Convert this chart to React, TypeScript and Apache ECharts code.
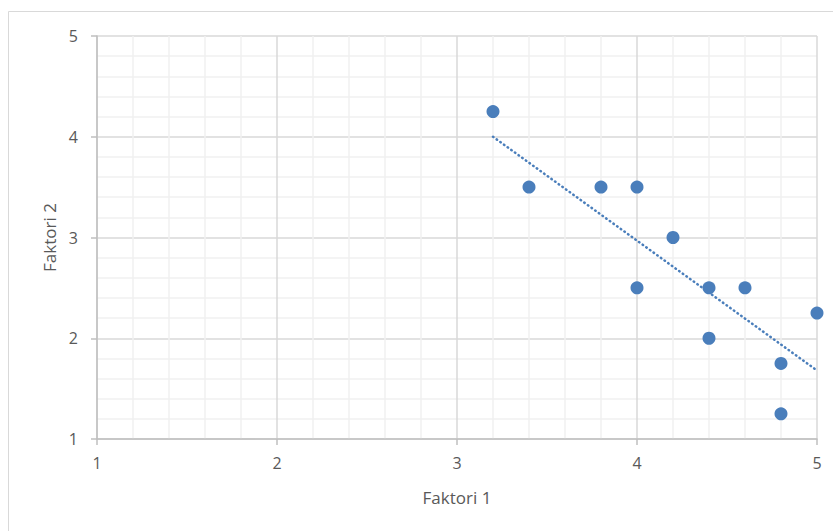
import React, { useEffect, useRef } from "react";
import * as echarts from "echarts";

const factor1: number[] = [3.2, 3.4, 3.8, 4.0, 4.2, 4.0, 4.4, 4.6, 5.0, 4.4, 4.8, 4.8];
const factor2: number[] = [4.25, 3.5, 3.5, 3.5, 3.0, 2.5, 2.5, 2.5, 2.25, 2.0, 1.75, 1.25];
const trendX: number[] = [3.2, 5.0];
const trendY: number[] = [4.0, 1.68];
const xTitle = "Faktori 1";
const yTitle = "Faktori 2";

export default function App() {
  const ref = useRef<HTMLDivElement>(null);
  useEffect(() => {
    if (!ref.current) return;
    const chart = echarts.init(ref.current, undefined, { renderer: "svg" });
    const font = "'Open Sans', 'Noto Sans', sans-serif";
    const axisCommon = {
      type: "value" as const,
      min: 1,
      max: 5,
      interval: 1,
      axisLine: { show: true, onZero: false, lineStyle: { color: "#bfbfbf", width: 1.5 } },
      axisTick: { show: true, length: 6, lineStyle: { color: "#bfbfbf", width: 1.5 } },
      splitLine: { show: true, lineStyle: { color: "#d9d9d9", width: 1.5 } },
      minorTick: { show: false, splitNumber: 5 },
      minorSplitLine: { show: true, lineStyle: { color: "#f0f0f0", width: 1.5 } },
      nameTextStyle: { color: "#595959", fontSize: 17, fontFamily: font },
    };
    chart.setOption({
      animation: false,
      backgroundColor: "#ffffff",
      graphic: [
        {
          type: "rect",
          shape: { x: 8.5, y: 11.5, width: 900, height: 600 },
          style: { fill: "none", stroke: "#d9d9d9", lineWidth: 1 },
          silent: true,
        },
      ],
      grid: { left: 97, right: 16, top: 36, bottom: 92, containLabel: false },
      xAxis: {
        ...axisCommon,
        name: xTitle,
        nameLocation: "middle",
        nameGap: 50,
        axisLabel: { color: "#595959", fontSize: 16, fontFamily: font, margin: 16 },
      },
      yAxis: {
        ...axisCommon,
        name: yTitle,
        nameLocation: "middle",
        nameGap: 38,
        axisLabel: { color: "#595959", fontSize: 16, fontFamily: font, margin: 19 },
      },
      series: [
        {
          type: "line",
          data: trendX.map((x, i) => [x, trendY[i]]),
          showSymbol: false,
          symbol: "none",
          lineStyle: { color: "#4a7ebb", width: 2.5, type: [0.5, 4], cap: "round" },
          z: 2,
        },
        {
          type: "scatter",
          data: factor1.map((x, i) => [x, factor2[i]]),
          symbol: "circle",
          symbolSize: 13,
          itemStyle: { color: "#4a7ebb", opacity: 1 },
          z: 3,
        },
      ],
    });
    return () => chart.dispose();
  }, []);
  return (
    <div
      ref={ref}
      style={{ position: "fixed", left: 0, top: 0, width: 833, height: 531 }}
    />
  );
}
